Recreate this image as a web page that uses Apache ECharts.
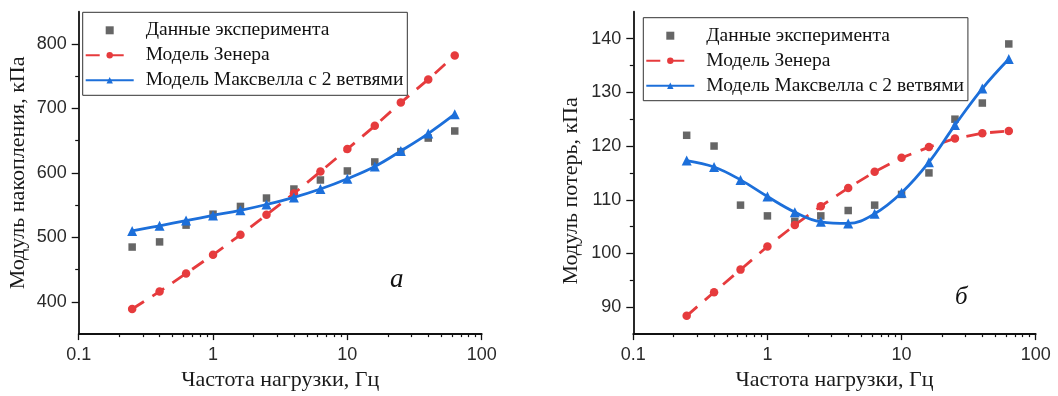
<!DOCTYPE html>
<html>
<head>
<meta charset="utf-8">
<script src="https://cdn.jsdelivr.net/npm/echarts@6/dist/echarts.min.js"></script>
<style>
html,body{margin:0;padding:0;background:#fff;}
#chart{width:1058px;height:396px;}
</style>
</head>
<body>
<div id="chart"></div>
<script>
// ---- data ----
const freq = [0.25, 0.4, 0.63, 1, 1.6, 2.5, 4, 6.3, 10, 16, 25, 40, 63];
const storageExp     = [485, 493, 519, 536, 548, 561, 575, 589, 603, 617, 633, 654, 665];
const storageZener   = [389, 416, 444, 473, 504, 535, 568, 602, 637, 673, 709, 745, 782];
const storageMaxwell = [510, 518, 526, 534, 542, 551, 562, 575, 591, 610, 634, 661, 691];
const lossExp     = [122, 120, 109, 107, 106, 107, 108, 109, 111, 115, 125, 128, 139];
const lossZener   = [88.4, 92.8, 97, 101.3, 105.3, 108.8, 112.2, 115.2, 117.8, 119.8, 121.4, 122.4, 122.8];
const lossMaxwell = [117.3, 116.1, 113.7, 110.6, 107.7, 105.9, 105.6, 107.4, 111.3, 117, 123.9, 130.7, 136.2];

const xMajorTicks = [0.1, 1, 10, 100];
const xMinorTicks = [0.2,0.3,0.4,0.5,0.6,0.7,0.8,0.9, 2,3,4,5,6,7,8,9, 20,30,40,50,60,70,80,90];
const storageMajorTicks = [400, 500, 600, 700, 800];
const storageMinorTicks = [450, 550, 650, 750];
const lossMajorTicks = [90, 100, 110, 120, 130, 140];
const lossMinorTicks = [95, 105, 115, 125, 135];

const seriesNames = ['Данные эксперимента', 'Модель Зенера', 'Модель Максвелла с 2 ветвями'];
const panelLetters = ['a', 'б'];
const yTitles = ['Модуль накопления, кПа', 'Модуль потерь, кПа'];
const xTitle = 'Частота нагрузки, Гц';

// ---- styles ----
const C_EXP = '#404040', C_ZEN = '#e63b3d', C_MAX = '#1c6fda';
const AX = '#111';
const serif = '"Liberation Serif", "DejaVu Serif", serif';
const sans = '"Liberation Sans", Arial, sans-serif';

const zip = (xs, ys) => xs.map((x, i) => [x, ys[i]]);

function xAxes(gridIndex, gap) {
  return [
    {
      type: 'log', logBase: 10, gridIndex, min: 0.1, max: 100, position: 'bottom',
      name: xTitle, nameLocation: 'middle', nameGap: gap,
      nameTextStyle: { fontFamily: serif, fontSize: 22, color: '#1a1a1a' },
      axisLine: { show: true, onZero: false, lineStyle: { color: AX, width: 1.8 } },
      axisTick: { show: true, inside: false, length: 6, lineStyle: { color: AX, width: 1.3 }, customValues: xMajorTicks },
      axisLabel: { show: true, margin: 12, fontFamily: sans, fontSize: 18, color: '#2a2a2a', customValues: xMajorTicks,
        formatter: v => String(+(+v).toPrecision(3)) },
      splitLine: { show: false }, minorTick: { show: false }
    },
    {
      type: 'log', logBase: 10, gridIndex, min: 0.1, max: 100, position: 'bottom',
      axisLine: { show: false, onZero: false },
      axisTick: { show: true, inside: false, length: 3, lineStyle: { color: AX, width: 1.2 }, customValues: xMinorTicks },
      axisLabel: { show: false }, splitLine: { show: false }
    }
  ];
}

function yAxes(gridIndex, min, max, major, minor, title, gap, pad) {
  return [
    {
      type: 'value', gridIndex, min, max, position: 'left',
      name: title, nameLocation: 'middle', nameGap: gap,
      nameTextStyle: { fontFamily: serif, fontSize: 22, color: '#1a1a1a', padding: pad },
      axisLine: { show: true, onZero: false, lineStyle: { color: AX, width: 1.8 } },
      axisTick: { show: true, inside: false, length: 7, lineStyle: { color: AX, width: 1.3 }, customValues: major },
      axisLabel: { show: true, margin: 12, fontFamily: sans, fontSize: 18, color: '#2a2a2a', customValues: major },
      splitLine: { show: false }
    },
    {
      type: 'value', gridIndex, min, max, position: 'left',
      axisLine: { show: false, onZero: false },
      axisTick: { show: true, inside: false, length: 3.5, lineStyle: { color: AX, width: 1.2 }, customValues: minor },
      axisLabel: { show: false }, splitLine: { show: false }
    }
  ];
}

function series(panel, exp, zen, max) {
  const xi = panel * 2, yi = panel * 2;
  return [
    { name: seriesNames[0], type: 'scatter', xAxisIndex: xi, yAxisIndex: yi, data: zip(freq, exp),
      symbol: 'rect', symbolSize: 7.5, itemStyle: { color: C_EXP }, z: 2 },
    { name: seriesNames[1], type: 'line', xAxisIndex: xi, yAxisIndex: yi, data: zip(freq, zen),
      symbol: 'circle', symbolSize: 8.5, showSymbol: true,
      lineStyle: { color: C_ZEN, width: 2.8, type: [14, 10] }, itemStyle: { color: C_ZEN }, z: 3 },
    { name: seriesNames[2], type: 'line', xAxisIndex: xi, yAxisIndex: yi, data: zip(freq, max),
      smooth: 0.4, symbol: 'triangle', symbolSize: 10, showSymbol: true,
      lineStyle: { color: C_MAX, width: 2.8 }, itemStyle: { color: C_MAX }, z: 4 }
  ];
}

function legend(left, top) {
  return {
    left, top, orient: 'vertical', itemWidth: 48, itemHeight: 8, itemGap: 5,
    padding: [8, 4, 5, 2], borderColor: '#333', borderWidth: 1, backgroundColor: '#fff',
    selectedMode: false, symbolKeepAspect: true,
    textStyle: { fontFamily: serif, fontSize: 19.5, color: '#111', lineHeight: 19, padding: [0, 0, 0, 7] },
    data: [
      { name: seriesNames[0], icon: 'path://M0,0h10v10h-10z' },
      { name: seriesNames[1] },
      { name: seriesNames[2] }
    ]
  };
}

const option = {
  backgroundColor: '#fff',
  animation: false,
  grid: [
    { left: 78.7, right: 576.3, top: 11.7, bottom: 54.3, containLabel: false },
    { left: 633.3, right: 22.3, top: 11.7, bottom: 54.3, containLabel: false }
  ],
  xAxis: [...xAxes(0, 27), ...xAxes(1, 32)],
  yAxis: [
    ...yAxes(0, 350, 850, storageMajorTicks, storageMinorTicks, yTitles[0], 49, [0, 0, 0, 0]),
    ...yAxes(1, 85, 145, lossMajorTicks, lossMinorTicks, yTitles[1], 51, [0, 36, 0, 0])
  ],
  legend: [legend(82.7, 12.3), legend(643.3, 17.7)],
  series: [
    ...series(0, storageExp, storageZener, storageMaxwell),
    ...series(1, lossExp, lossZener, lossMaxwell)
  ],
  graphic: [
    { type: 'text', left: 390, top: 266, style: { text: panelLetters[0], font: 'italic 27px ' + serif, fill: '#111' } },
    { type: 'text', left: 955, top: 285, style: { text: panelLetters[1], font: 'italic 25px ' + serif, fill: '#111' } }
  ]
};

const chart = echarts.init(document.getElementById('chart'), null, { renderer: 'canvas' });
chart.setOption(option);
</script>
</body>
</html>
